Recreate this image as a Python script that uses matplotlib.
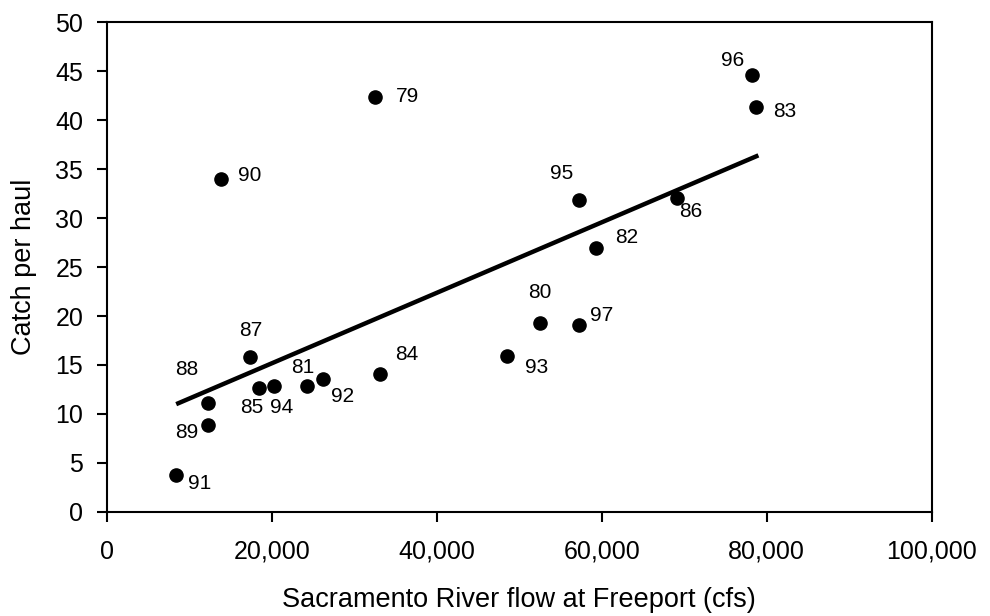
import matplotlib
matplotlib.use("Agg")
import matplotlib.pyplot as plt
from matplotlib.ticker import FuncFormatter

plt.rcParams['font.family'] = ['Liberation Sans', 'DejaVu Sans']

# year labels, flow (cfs) and catch per haul
years = ['91', '89', '88', '87', '85', '94', '81', '92', '84', '90', '79',
         '93', '80', '97', '95', '82', '86', '96', '83']
flow = [8400, 12300, 12300, 17400, 18500, 20300, 24300, 26200, 33100, 13800,
        32500, 48500, 52500, 57300, 57200, 59300, 69100, 78200, 78700]
catch = [3.8, 8.9, 11.1, 15.8, 12.7, 12.9, 12.9, 13.6, 14.1, 34.0,
         42.4, 15.9, 19.3, 19.05, 31.8, 26.9, 32.0, 44.6, 41.3]

# label offsets from each dot, in pixels (right, up)
offsets = {'91': (23, -9), '89': (-22, -8), '88': (-22, 34), '87': (0, 27),
           '85': (-8, -20), '94': (7, -22), '81': (-5, 18), '92': (20, -18),
           '84': (27, 19), '90': (29, 3), '79': (33, 0), '93': (30, -11),
           '80': (0, 30), '97': (22, 10), '95': (-17, 27), '82': (31, 11),
           '86': (14, -13), '96': (-19, 15), '83': (29, -4)}

# fitted line end points
fit_x = [8400, 79000]
fit_y = [11.0, 36.4]

fig = plt.figure(figsize=(9.9, 6.16), dpi=100)
ax = fig.add_axes([0.108, 0.169, 0.833, 0.795])

ax.plot(fit_x, fit_y, color='black', lw=3.2, solid_capstyle='butt', zorder=2)
ax.scatter(flow, catch, s=90, color='black', zorder=3)

for yr, x, y in zip(years, flow, catch):
    dx, dy = offsets[yr]
    ax.annotate(yr, (x, y), xytext=(dx, dy), textcoords='offset pixels',
                ha='center', va='center', fontsize=15)

ax.set_xlim(0, 100000)
ax.set_ylim(0, 50)
ax.set_xticks(range(0, 100001, 20000))
ax.set_yticks(range(0, 51, 5))
ax.xaxis.set_major_formatter(FuncFormatter(lambda v, p: f"{int(v):,}"))
ax.tick_params(direction='out', length=7, width=1.5, labelsize=18)
ax.tick_params(axis='x', pad=13)
ax.tick_params(axis='y', pad=10)
for sp in ax.spines.values():
    sp.set_linewidth(1.5)

ax.set_xlabel("Sacramento River flow at Freeport (cfs)", fontsize=19.5, labelpad=17)
ax.set_ylabel("Catch per haul", fontsize=19.5, labelpad=13)

fig.savefig("out.png", dpi=100)
